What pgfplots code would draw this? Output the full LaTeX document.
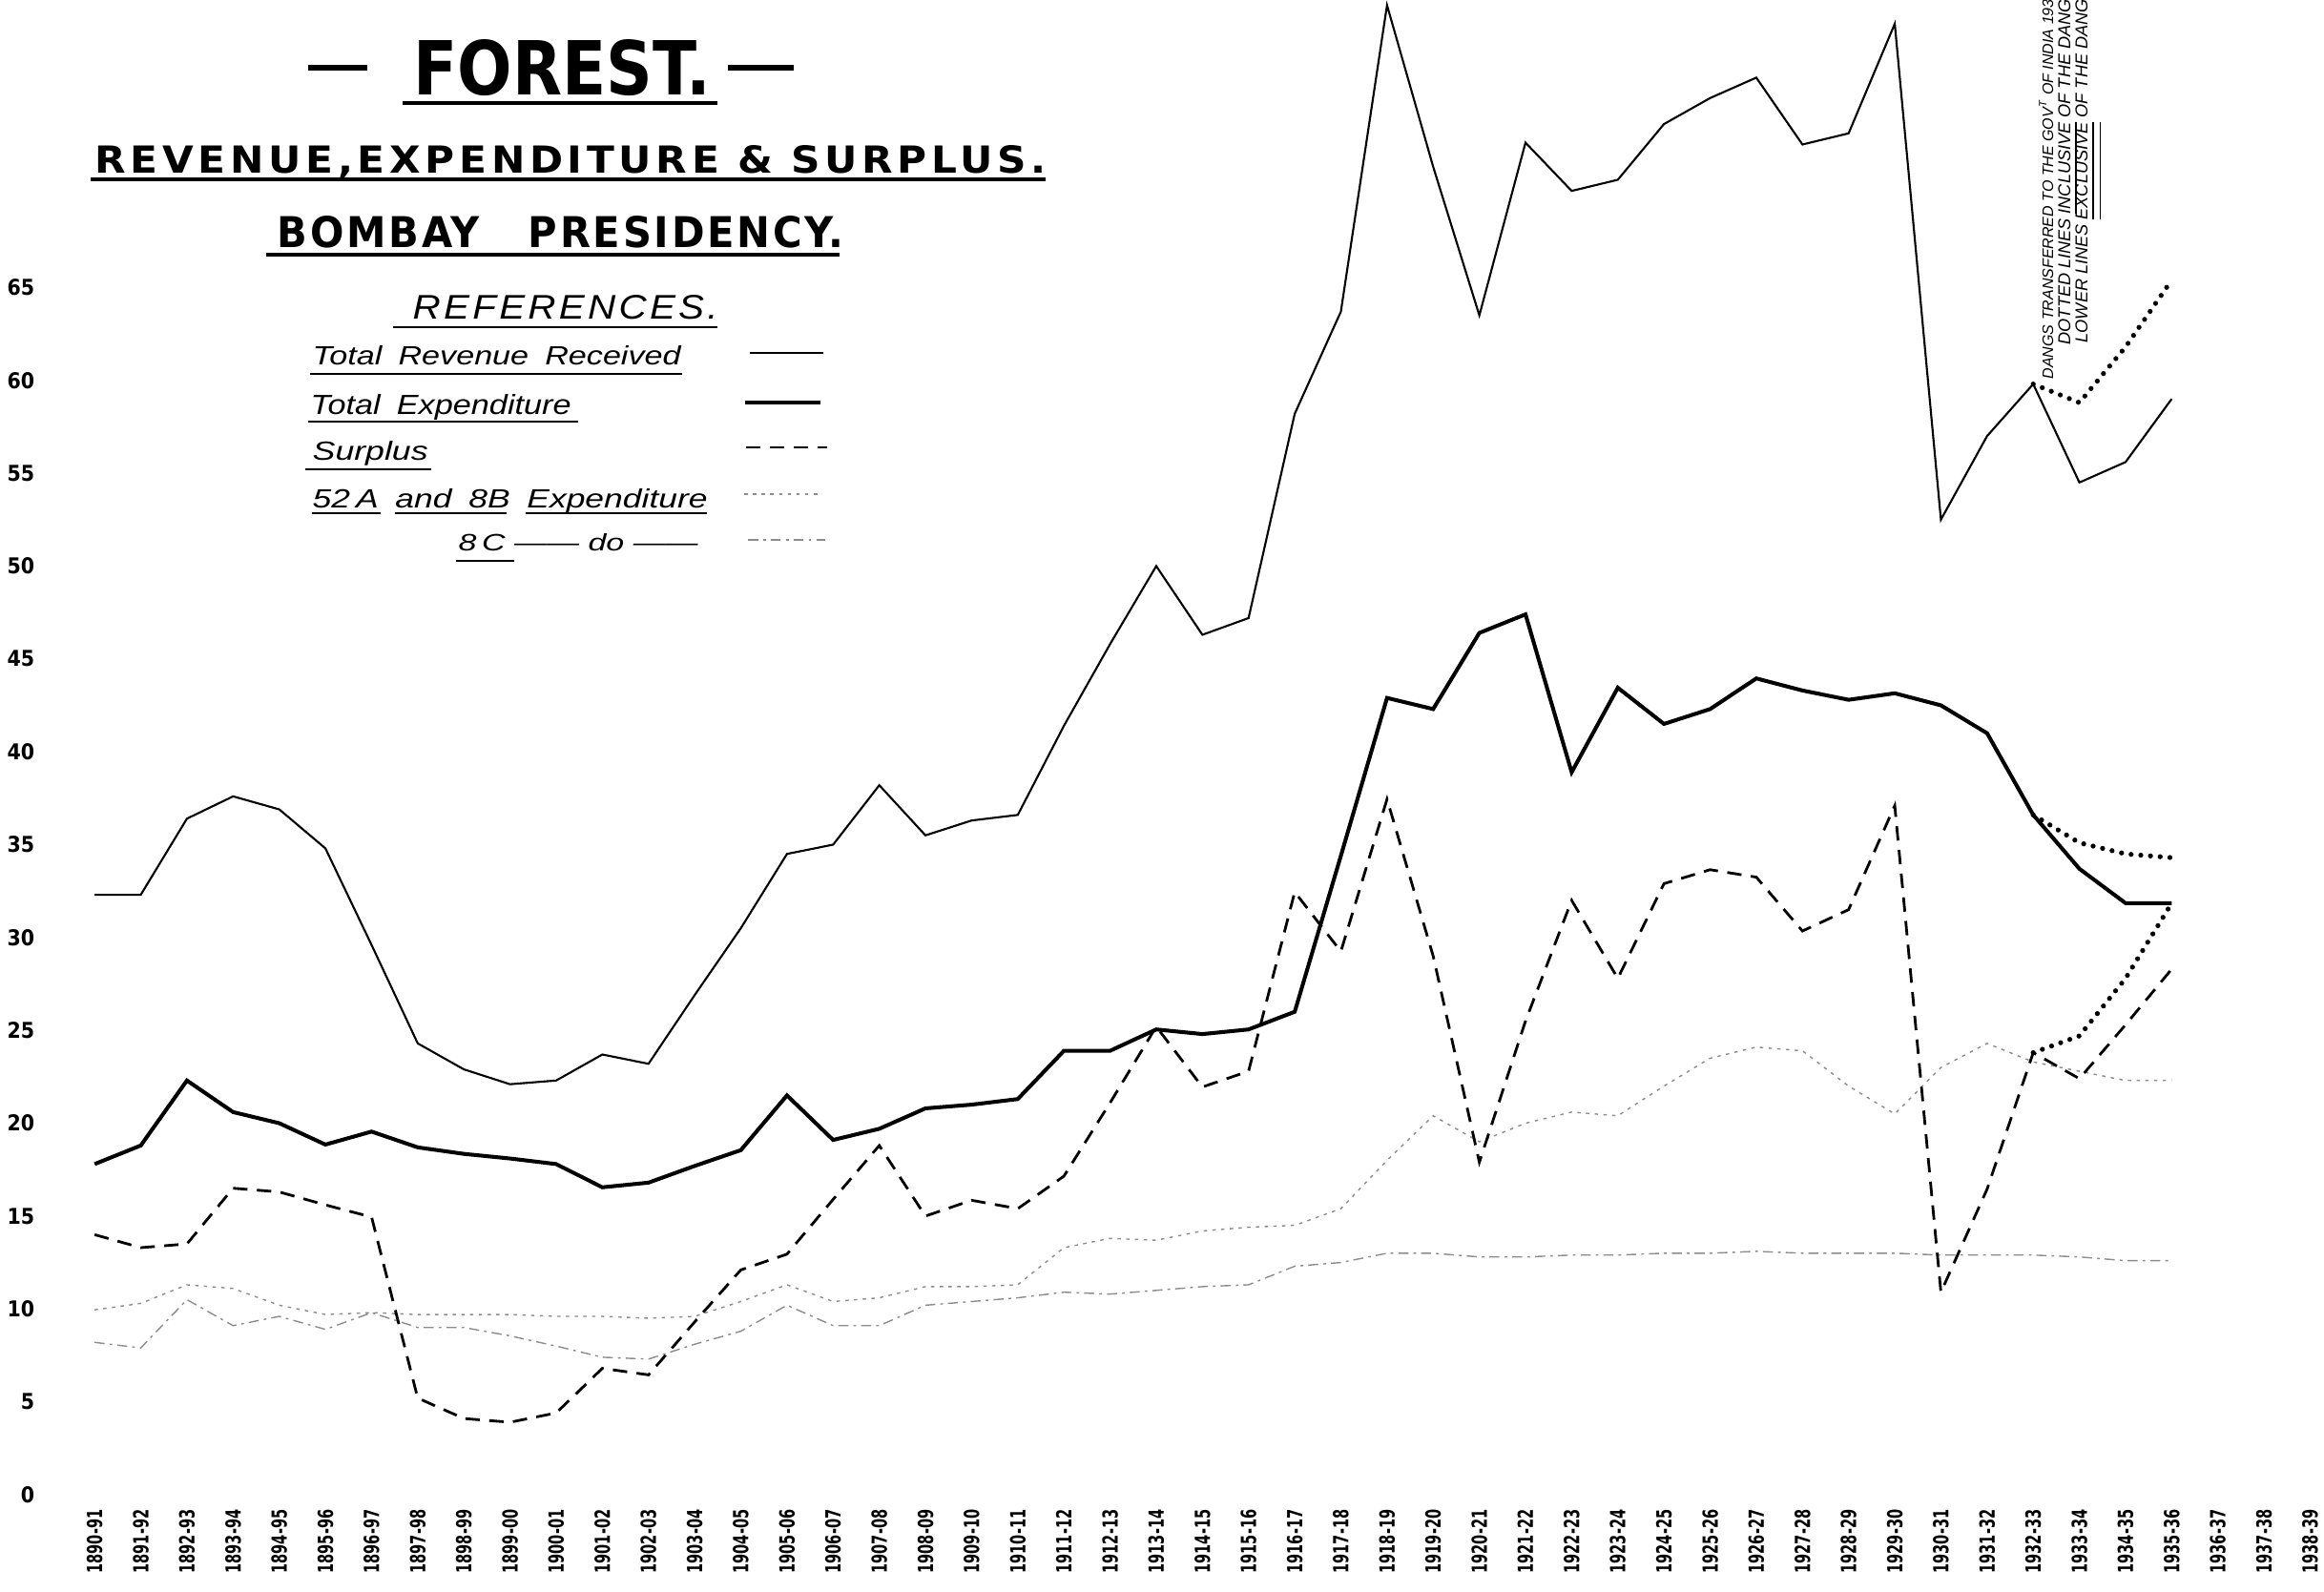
\documentclass[border=0pt]{standalone}
\usepackage{fontspec}
\setmainfont{DejaVu Sans}
\newfontfamily\cond{DejaVu Sans Condensed}
\newfontfamily\ital{Liberation Sans}
\usepackage{graphicx}
\usepackage{pgfplots}
\pgfplotsset{compat=1.18}
\newcommand\xl[1]{\scalebox{1}[1.35]{#1}}
\begin{document}
\begin{tikzpicture}
\begin{axis}[
  at={(0,0)}, anchor=south west,
  scale only axis, width=24.36cm, height=16.68cm,
  xmin=-2.05, xmax=48.3, ymin=-5.19, ymax=80.48,
  clip=false,
  axis line style={draw=none},
  tick style={draw=none},
  xtick={0,...,48},
  xticklabels={\xl{1890-91},\xl{1891-92},\xl{1892-93},\xl{1893-94},\xl{1894-95},\xl{1895-96},\xl{1896-97},\xl{1897-98},\xl{1898-99},\xl{1899-00},\xl{1900-01},\xl{1901-02},\xl{1902-03},\xl{1903-04},\xl{1904-05},\xl{1905-06},\xl{1906-07},\xl{1907-08},\xl{1908-09},\xl{1909-10},\xl{1910-11},\xl{1911-12},\xl{1912-13},\xl{1913-14},\xl{1914-15},\xl{1915-16},\xl{1916-17},\xl{1917-18},\xl{1918-19},\xl{1919-20},\xl{1920-21},\xl{1921-22},\xl{1922-23},\xl{1923-24},\xl{1924-25},\xl{1925-26},\xl{1926-27},\xl{1927-28},\xl{1928-29},\xl{1929-30},\xl{1930-31},\xl{1931-32},\xl{1932-33},\xl{1933-34},\xl{1934-35},\xl{1935-36},\xl{1936-37},\xl{1937-38},\xl{1938-39}},
  xticklabel style={rotate=90, anchor=east, inner sep=0pt, font=\cond\bfseries\fontsize{4.6}{5}\selectfont},
  xticklabel shift=-0.86cm,
  ytick={0,5,...,65},
  yticklabels={0,5,10,15,20,25,30,35,40,45,50,55,60,65},
  yticklabel style={anchor=east, inner sep=0pt, font=\cond\bfseries\fontsize{6.5}{7}\selectfont},
  yticklabel shift=-0.37cm,
]
% 52 A and 8B Expenditure
\addplot[black!45, line width=0.4pt, dash pattern=on 1pt off 1.6pt] coordinates {
(0,9.95)(1,10.3)(2,11.3)(3,11.1)(4,10.2)(5,9.7)(6,9.8)(7,9.7)(8,9.7)(9,9.7)(10,9.6)(11,9.6)(12,9.5)(13,9.6)(14,10.4)(15,11.3)(16,10.4)(17,10.6)(18,11.2)(19,11.2)(20,11.3)(21,13.3)(22,13.8)(23,13.7)(24,14.2)(25,14.4)(26,14.5)(27,15.4)(28,18.0)(29,20.4)(30,19.0)(31,20.0)(32,20.6)(33,20.4)(34,22.0)(35,23.5)(36,24.1)(37,23.9)(38,22.0)(39,20.5)(40,23.0)(41,24.3)(42,23.3)(43,22.8)(44,22.3)(45,22.3)};
% 8 C Expenditure
\addplot[black!45, line width=0.4pt, dash pattern=on 3pt off 1.5pt on 0.8pt off 1.5pt] coordinates {
(0,8.2)(1,7.9)(2,10.5)(3,9.1)(4,9.6)(5,8.9)(6,9.8)(7,9.0)(8,9.0)(9,8.55)(10,8.0)(11,7.4)(12,7.3)(13,8.1)(14,8.8)(15,10.2)(16,9.1)(17,9.1)(18,10.2)(19,10.4)(20,10.6)(21,10.9)(22,10.8)(23,11.0)(24,11.2)(25,11.3)(26,12.3)(27,12.5)(28,13.0)(29,13.0)(30,12.8)(31,12.8)(32,12.9)(33,12.9)(34,13.0)(35,13.0)(36,13.1)(37,13.0)(38,13.0)(39,13.0)(40,12.9)(41,12.9)(42,12.9)(43,12.8)(44,12.6)(45,12.6)};
% Surplus
\addplot[black, line width=0.8pt, dash pattern=on 4.3pt off 2.8pt] coordinates {
(0,14.0)(1,13.3)(2,13.5)(3,16.5)(4,16.3)(5,15.6)(6,14.95)(7,5.2)(8,4.1)(9,3.9)(10,4.4)(11,6.8)(12,6.45)(13,9.3)(14,12.1)(15,12.95)(16,15.9)(17,18.8)(18,15.0)(19,15.85)(20,15.4)(21,17.15)(22,21.1)(23,25.2)(24,21.95)(25,22.8)(26,32.45)(27,29.25)(28,37.45)(29,29.0)(30,17.9)(31,25.5)(32,32.0)(33,27.8)(34,32.9)(35,33.65)(36,33.25)(37,30.35)(38,31.5)(39,37.1)(40,10.9)(41,16.45)(42,23.8)(43,22.4)(44,25.3)(45,28.3)};
% Total Revenue Received
\addplot[black, line width=0.6pt] coordinates {
(0,32.3)(1,32.3)(2,36.4)(3,37.6)(4,36.9)(5,34.8)(6,29.6)(7,24.3)(8,22.9)(9,22.1)(10,22.3)(11,23.7)(12,23.2)(13,26.9)(14,30.5)(15,34.5)(16,35.0)(17,38.2)(18,35.5)(19,36.3)(20,36.6)(21,41.4)(22,45.8)(23,50.0)(24,46.3)(25,47.2)(26,58.2)(27,63.7)(28,80.2)(29,71.5)(30,63.5)(31,72.8)(32,70.2)(33,70.8)(34,73.8)(35,75.2)(36,76.3)(37,72.7)(38,73.3)(39,79.2)(40,52.5)(41,57.0)(42,59.8)(43,54.5)(44,55.6)(45,59.0)};
% Total Expenditure
\addplot[black, line width=1.15pt] coordinates {
(0,17.8)(1,18.8)(2,22.3)(3,20.6)(4,20.0)(5,18.85)(6,19.55)(7,18.7)(8,18.35)(9,18.1)(10,17.8)(11,16.55)(12,16.8)(13,17.7)(14,18.55)(15,21.5)(16,19.1)(17,19.7)(18,20.8)(19,21.0)(20,21.3)(21,23.9)(22,23.9)(23,25.05)(24,24.8)(25,25.05)(26,26.0)(27,34.4)(28,42.9)(29,42.3)(30,46.4)(31,47.4)(32,38.9)(33,43.45)(34,41.5)(35,42.3)(36,43.95)(37,43.3)(38,42.8)(39,43.15)(40,42.5)(41,41.0)(42,36.6)(43,33.7)(44,31.85)(45,31.85)};
% Dotted lines: inclusive of the Dangs
\addplot[black, line width=1.5pt, line cap=round, dash pattern=on 0pt off 2.9pt] coordinates {(42,59.8)(43,58.8)(44,61.8)(45,65.4)};
\addplot[black, line width=1.5pt, line cap=round, dash pattern=on 0pt off 2.9pt] coordinates {(42,36.6)(43,35.1)(44,34.5)(45,34.3)};
\addplot[black, line width=1.5pt, line cap=round, dash pattern=on 0pt off 2.9pt] coordinates {(42,23.8)(43,24.7)(44,27.8)(45,31.85)};
\end{axis}
% ---- titles ----
\node[anchor=base west, inner sep=0pt] at (4.33cm,15.68cm) {\resizebox{3.11cm}{0.58cm}{\cond\bfseries FOREST.}};
\draw[line width=1pt] (4.22cm,15.60cm) -- (7.52cm,15.60cm);
\draw[line width=1.5pt] (3.23cm,15.97cm) -- (3.85cm,15.97cm);
\draw[line width=1.5pt] (7.63cm,15.97cm) -- (8.32cm,15.97cm);
\node[anchor=base west, inner sep=0pt] at (0.99cm,14.86cm) {\resizebox{9.97cm}{0.29cm}{\cond\bfseries\addfontfeature{LetterSpace=10}REVENUE,EXPENDITURE \& SURPLUS.}};
\draw[line width=1pt] (0.95cm,14.80cm) -- (10.96cm,14.80cm);
\node[anchor=base west, inner sep=0pt] at (2.90cm,14.08cm) {\resizebox{5.94cm}{0.33cm}{\cond\bfseries\addfontfeature{LetterSpace=6}BOMBAY\hspace{1.1em}PRESIDENCY.}};
\draw[line width=1pt] (2.79cm,14.01cm) -- (8.80cm,14.01cm);
% ---- references ----
\node[anchor=base west, inner sep=0pt] at (4.32cm,13.33cm) {\resizebox{3.20cm}{0.25cm}{\ital\itshape\addfontfeature{LetterSpace=8}REFERENCES.}};
\draw[line width=0.8pt] (4.12cm,13.25cm) -- (7.52cm,13.25cm);
\node[anchor=base west, inner sep=0pt] at (3.27cm,12.85cm) {\resizebox{3.86cm}{0.20cm}{\ital\itshape Total\enspace Revenue\enspace Received}};
\draw[line width=0.8pt] (3.25cm,12.76cm) -- (7.15cm,12.76cm);
\draw[line width=0.6pt] (7.86cm,12.98cm) -- (8.63cm,12.98cm);
\node[anchor=base west, inner sep=0pt] at (3.25cm,12.33cm) {\resizebox{2.73cm}{0.21cm}{\ital\itshape Total\enspace Expenditure}};
\draw[line width=0.8pt] (3.23cm,12.26cm) -- (6.06cm,12.26cm);
\draw[line width=1.15pt] (7.81cm,12.46cm) -- (8.60cm,12.46cm);
\node[anchor=base west, inner sep=0pt] at (3.27cm,11.85cm) {\resizebox{1.21cm}{0.20cm}{\ital\itshape Surplus}};
\draw[line width=0.8pt] (3.20cm,11.76cm) -- (4.52cm,11.76cm);
\draw[line width=0.8pt, dash pattern=on 4.3pt off 2.8pt] (7.82cm,11.99cm) -- (8.67cm,11.99cm);
\node[anchor=base west, inner sep=0pt] at (3.27cm,11.35cm) {\resizebox{4.14cm}{0.20cm}{\ital\itshape 52\,A\enspace and\enspace 8B\enspace Expenditure}};
\draw[line width=0.8pt] (3.27cm,11.30cm) -- (3.99cm,11.30cm);
\draw[line width=0.8pt] (4.14cm,11.30cm) -- (5.31cm,11.30cm);
\draw[line width=0.8pt] (5.51cm,11.30cm) -- (7.41cm,11.30cm);
\draw[black!45, line width=0.4pt, dash pattern=on 1pt off 1.6pt] (7.80cm,11.50cm) -- (8.59cm,11.50cm);
\node[anchor=base west, inner sep=0pt] at (4.80cm,10.90cm) {\resizebox{2.51cm}{0.18cm}{\ital\itshape 8\,C ―― do ――}};
\draw[line width=0.8pt] (4.78cm,10.80cm) -- (5.39cm,10.80cm);
\draw[black!45, line width=0.4pt, dash pattern=on 3pt off 1.5pt on 0.8pt off 1.5pt] (7.84cm,11.02cm) -- (8.65cm,11.02cm);
% ---- rotated note ----
\node[rotate=90, anchor=base west, inner sep=0pt] at (21.52cm,12.70cm) {\resizebox{3.98cm}{!}{\ital\itshape\fontsize{4.6}{5}\selectfont DANGS TRANSFERRED TO THE GOV\textsuperscript{T} OF INDIA 193}};
\node[rotate=90, anchor=base west, inner sep=0pt] at (21.70cm,13.06cm) {\resizebox{3.62cm}{!}{\ital\itshape\fontsize{4.6}{5}\selectfont DOTTED LINES \underline{INCLUSIVE} OF THE DANG}};
\node[rotate=90, anchor=base west, inner sep=0pt] at (21.88cm,13.08cm) {\resizebox{3.60cm}{!}{\ital\itshape\fontsize{4.6}{5}\selectfont LOWER LINES \underline{\underline{EXCLUSIVE}} OF THE DANG}};
\pgfresetboundingbox
\path[use as bounding box] (0,0) rectangle (24.36cm,16.68cm);
\end{tikzpicture}
\end{document}
